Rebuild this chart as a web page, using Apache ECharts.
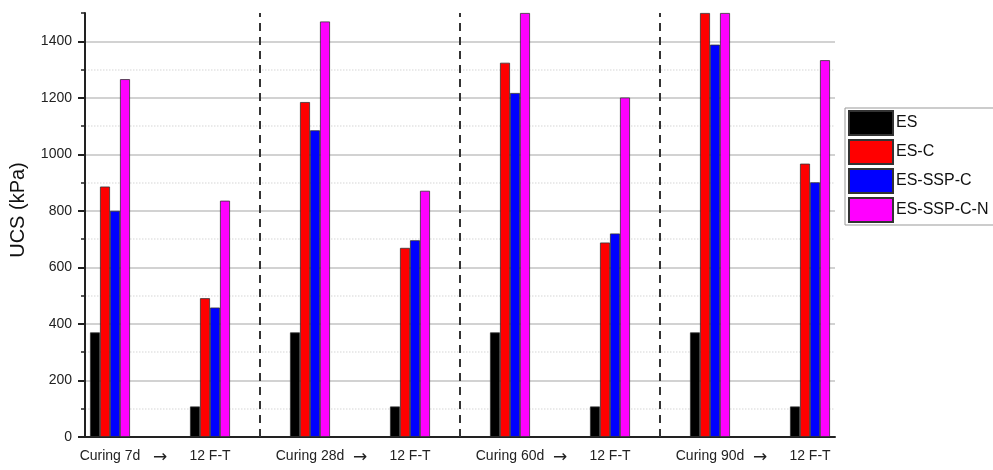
<!DOCTYPE html>
<html>
<head>
<meta charset="utf-8">
<script src="https://cdn.jsdelivr.net/npm/echarts@6/dist/echarts.min.js"></script>
<style>
  html, body { margin: 0; padding: 0; background: #fff; }
  #chart { width: 993px; height: 470px; }
</style>
</head>
<body>
<div id="chart"></div>
<script>
// Slots along the x axis: each curing age, an arrow, its freeze-thaw result, and a separator slot
const categories = [
  'Curing 7d', '→', '12 F-T', ' ',
  'Curing 28d', '→', '12 F-T', '  ',
  'Curing 60d', '→', '12 F-T', '   ',
  'Curing 90d', '→', '12 F-T'
];

// UCS values (kPa); null where a slot holds no bar
const esValues       = [370, null, 108, null, 370, null, 108, null, 370, null, 108, null, 370, null, 108];
const escValues      = [886, null, 491, null, 1185, null, 669, null, 1324, null, 688, null, 1500, null, 967];
const esSspCValues   = [800, null, 458, null, 1085, null, 696, null, 1217, null, 720, null, 1388, null, 901];
const esSspCNValues  = [1266, null, 836, null, 1470, null, 871, null, 1500, null, 1201, null, 1500, null, 1333];

const yTicks = [0, 200, 400, 600, 800, 1000, 1200, 1400];
const separatorSlots = [3, 7, 11];

const seriesNames = ['ES', 'ES-C', 'ES-SSP-C', 'ES-SSP-C-N'];
const seriesColors = ['#000000', '#ff0000', '#0000ff', '#ff00ff'];
const seriesValues = [esValues, escValues, esSspCValues, esSspCNValues];

const chart = echarts.init(document.getElementById('chart'));

const font = 'Liberation Sans, Arial, sans-serif';

const series = seriesNames.map((name, i) => ({
  name,
  type: 'bar',
  xAxisIndex: 0,
  yAxisIndex: 0,
  data: seriesValues[i],
  barWidth: 10,
  barGap: '0%',
  itemStyle: { color: seriesColors[i], borderColor: '#333', borderWidth: 0.8 },
  emphasis: { disabled: true }
}));

// Dashed separators between the curing ages, hosted on an empty line series
series.push({
  name: 'separators',
  type: 'line',
  xAxisIndex: 0,
  yAxisIndex: 0,
  data: categories.map(() => null),
  showSymbol: false,
  silent: true,
  markLine: {
    silent: true,
    symbol: 'none',
    label: { show: false },
    lineStyle: { color: '#333', width: 2, type: [8, 6] },
    data: separatorSlots.map(s => ({ xAxis: s }))
  }
});

chart.setOption({
  animation: false,
  backgroundColor: '#fff',
  grid: { left: 85, right: 158, top: 13, bottom: 33, containLabel: false },
  legend: {
    orient: 'vertical',
    left: 845,
    top: 108,
    data: seriesNames,
    icon: 'rect',
    itemWidth: 44,
    itemHeight: 24,
    itemGap: 3,
    padding: [2, 40, 2, 3],
    borderColor: '#999',
    borderWidth: 1,
    textStyle: { fontFamily: font, fontSize: 16, color: '#111', padding: [0, 0, 0, -2] }
  },
  xAxis: [
    {
      type: 'category',
      position: 'bottom',
      data: categories,
      axisLine: { lineStyle: { color: '#222', width: 2 } },
      axisTick: { alignWithLabel: true, length: 8, lineStyle: { color: '#222', width: 2 } },
      axisLabel: {
        interval: 0, margin: 12, fontFamily: font, fontSize: 14, color: '#222',
        formatter: v => (v === '→' ? '{arrow|→}' : v),
        rich: { arrow: { fontFamily: 'DejaVu Sans', fontSize: 17, color: '#222', padding: [0, 0, 3, 0] } }
      },
      splitLine: { show: false }
    },
    {
      type: 'category',
      position: 'bottom',
      data: categories,
      axisLine: { show: false },
      axisTick: { alignWithLabel: false, interval: 0, length: 5, lineStyle: { color: '#222', width: 1.5 } },
      axisLabel: { show: false },
      splitLine: { show: false }
    }
  ],
  yAxis: [
    {
      type: 'value',
      position: 'left',
      min: 0,
      max: 1500,
      interval: 200,
      name: 'UCS (kPa)',
      nameLocation: 'middle',
      nameGap: 57,
      nameTextStyle: { fontFamily: font, fontSize: 20, color: '#111', padding: [0, 0, 0, 30] },
      axisLine: { show: true, lineStyle: { color: '#222', width: 2 } },
      axisTick: { show: true, length: 7, lineStyle: { color: '#222', width: 2 } },
      axisLabel: {
        margin: 13, fontFamily: font, fontSize: 14, color: '#222', showMaxLabel: false,
        formatter: v => (yTicks.indexOf(v) >= 0 ? String(v) : '')
      },
      splitLine: { show: true, showMinLine: false, showMaxLine: false, lineStyle: { color: '#d2d2d2', width: 2 } }
    },
    {
      type: 'value',
      position: 'left',
      min: 0,
      max: 1500,
      interval: 100,
      axisLine: { show: false },
      axisTick: { show: true, length: 4, lineStyle: { color: '#222', width: 1.5 } },
      axisLabel: { show: false },
      splitLine: {
        show: true, showMinLine: true, showMaxLine: false,
        lineStyle: { color: ['transparent', '#e4e4e4'], width: 1.5, type: 'dotted' }
      }
    }
  ],
  series
});
</script>
</body>
</html>
